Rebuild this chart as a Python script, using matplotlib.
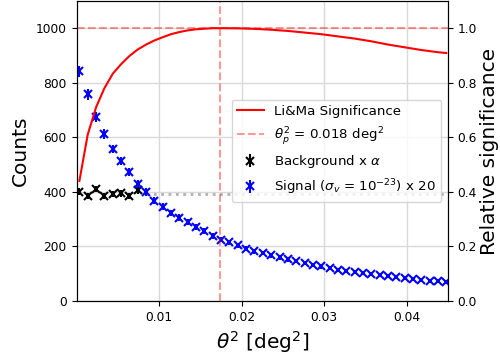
import numpy as np
import matplotlib
matplotlib.use("Agg")
import matplotlib.pyplot as plt

# theta^2 bin positions (deg^2)
theta2 = [0.00035, 0.00136, 0.00237, 0.00338, 0.00439, 0.00540, 0.00641, 0.00742,
          0.00843, 0.00944, 0.01045, 0.01146, 0.01247, 0.01348, 0.01449, 0.01550,
          0.01651, 0.01752, 0.01853, 0.01954, 0.02055, 0.02156, 0.02257, 0.02358,
          0.02459, 0.02560, 0.02661, 0.02762, 0.02863, 0.02964, 0.03065, 0.03166,
          0.03267, 0.03368, 0.03469, 0.03570, 0.03671, 0.03772, 0.03873, 0.03974,
          0.04075, 0.04176, 0.04277, 0.04378, 0.04479]

signal = [842, 757, 673, 612, 557, 513, 474, 430, 399, 367, 345, 323, 306, 289, 271,
          258, 240, 225, 215, 204, 192, 183, 176, 168, 161, 153, 146, 139, 133, 127,
          121, 115, 110, 107, 104, 100, 96, 92, 88, 84, 81, 78, 75, 72, 70]
signal_err = [20, 19, 18, 17, 16, 16, 15, 14, 14, 13, 13, 12, 12, 12, 11,
              11, 11, 10, 10, 10, 10, 9, 9, 9, 9, 9, 8, 8, 8, 8,
              8, 7, 7, 7, 7, 7, 7, 7, 6, 6, 6, 6, 6, 6, 6]

bkg_theta2 = theta2[:8]
background = [401, 385, 410, 385, 392, 395, 385, 406]
background_err = [12, 12, 12, 12, 12, 12, 12, 12]
bkg_level = 394

significance = [0.44, 0.61, 0.71, 0.78, 0.833, 0.868, 0.898, 0.922, 0.940, 0.955,
                0.967, 0.978, 0.986, 0.992, 0.996, 0.998, 1.0, 1.0, 0.9998, 0.9994,
                0.9986, 0.9975, 0.996, 0.9944, 0.992, 0.990, 0.987, 0.984, 0.981, 0.978,
                0.974, 0.970, 0.966, 0.962, 0.957, 0.952, 0.946, 0.940, 0.935, 0.930,
                0.925, 0.920, 0.916, 0.912, 0.909]
theta2_p = 0.0174

fig = plt.figure(figsize=(5.0, 3.62), dpi=100)
ax1 = fig.add_axes([0.153, 0.1685, 0.743, 0.829])
ax2 = ax1.twinx()

ax1.grid(True, color="#d9d9d9", linewidth=1)
ax1.set_axisbelow(True)

ax1.hlines(bkg_level, theta2[8], theta2[-1], colors="gray", linestyles=":",
           linewidth=2, alpha=0.6, zorder=1)
hb = ax1.errorbar(bkg_theta2, background, yerr=background_err, fmt="x", color="black",
                  ms=5.5, mew=1.5, elinewidth=1.5, zorder=3)
hs = ax1.errorbar(theta2, signal, yerr=signal_err, fmt="x", color="blue",
                  ms=5.5, mew=1.5, elinewidth=1.5, zorder=3)
ax1.set_xlim(0.0, 0.045)
ax1.set_ylim(0, 1100)
ax1.set_xticks([0.01, 0.02, 0.03, 0.04])
ax1.set_yticks([0, 200, 400, 600, 800, 1000])
ax1.tick_params(labelsize=8.8)
ax1.set_ylabel("Counts", fontsize=14.5)
ax1.set_xlabel(r"$\theta^2$ [deg$^2$]", fontsize=14.5)

hl, = ax2.plot(theta2, significance, color="red", linewidth=1.5)
ax2.axhline(1.0, color="red", alpha=0.4, linestyle="--", linewidth=1.5)
hp = ax2.axvline(theta2_p, color="red", alpha=0.4, linestyle="--", linewidth=1.5)
ax2.set_ylim(0, 1.1)
ax2.set_yticks([0.0, 0.2, 0.4, 0.6, 0.8, 1.0])
ax2.tick_params(labelsize=8.8)
ax2.set_ylabel("Relative significance", fontsize=14.5, labelpad=2)

ax2.legend([hl, hp, hb, hs],
           ["Li&Ma Significance", r"$\theta^2_p$ = 0.018 deg$^2$",
            r"Background x $\alpha$", r"Signal ($\sigma_v$ = $10^{-23}$) x 20"],
           loc="center right", fontsize=9.6)

fig.savefig("out.png", dpi=100)
